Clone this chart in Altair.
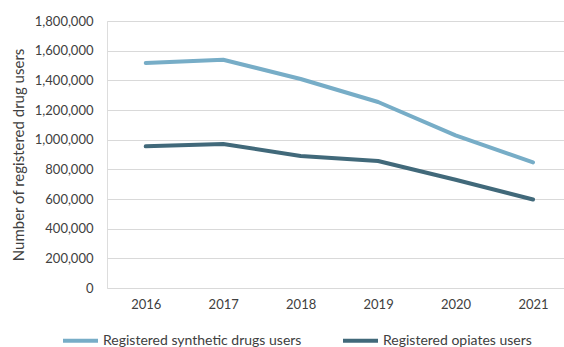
import altair as alt
import pandas as pd

# Registered drug users by year
years = [2016, 2017, 2018, 2019, 2020, 2021]
synthetic_users = [1517000, 1539000, 1409000, 1254000, 1029000, 847000]
opiate_users = [955000, 971000, 890000, 856000, 730000, 597000]

series_names = ["Registered synthetic drugs users", "Registered opiates users"]
series_colors = ["#77ADC7", "#41697A"]
y_ticks = list(range(0, 1800001, 200000))

rows = []
for name, values in zip(series_names, [synthetic_users, opiate_users]):
    for yr, v in zip(years, values):
        rows.append({"year": yr, "users": v, "series": name})
df = pd.DataFrame(rows)

FONT = "Lato"
TEXT = "#404040"

chart = (
    alt.Chart(df)
    .mark_line(strokeWidth=4, strokeCap="round", strokeJoin="round")
    .encode(
        x=alt.X(
            "year:Q",
            scale=alt.Scale(domain=[2015.5, 2021.4], nice=False, zero=False),
            axis=alt.Axis(
                values=years,
                format="d",
                title=None,
                grid=False,
                domain=False,
                ticks=False,
                labelPadding=10,
                labelFontSize=13,
                labelFont=FONT,
                labelColor=TEXT,
            ),
        ),
        y=alt.Y(
            "users:Q",
            scale=alt.Scale(domain=[0, 1800000], nice=False),
            axis=alt.Axis(
                values=y_ticks,
                format=",.0f",
                title="Number of registered drug users",
                titleFont=FONT,
                titleFontSize=15,
                titleFontWeight="normal",
                titleColor=TEXT,
                titlePadding=8,
                grid=True,
                gridColor="#D9D9D9",
                gridWidth=1,
                domain=False,
                ticks=False,
                labelPadding=14,
                labelFontSize=13,
                labelFont=FONT,
                labelColor=TEXT,
            ),
        ),
        color=alt.Color(
            "series:N",
            scale=alt.Scale(domain=series_names, range=series_colors),
            sort=series_names,
            legend=alt.Legend(
                title=None,
                orient="none",
                direction="horizontal",
                legendX=-46,
                legendY=300,
                symbolType="stroke",
                symbolSize=1225,
                symbolStrokeWidth=4,
                labelOffset=3,
                columnPadding=33,
                labelFont=FONT,
                labelFontSize=14,
                labelColor=TEXT,
                labelLimit=400,
            ),
        ),
    )
    .properties(
        width=457,
        height=267,
        padding={"left": 107, "top": 21, "right": 0, "bottom": 59},
        autosize=alt.AutoSizeParams(type="none"),
    )
    .configure_view(stroke=None)
    .configure(background="white")
)

chart.save("out.html", embed_options={"renderer": "svg", "actions": False})
